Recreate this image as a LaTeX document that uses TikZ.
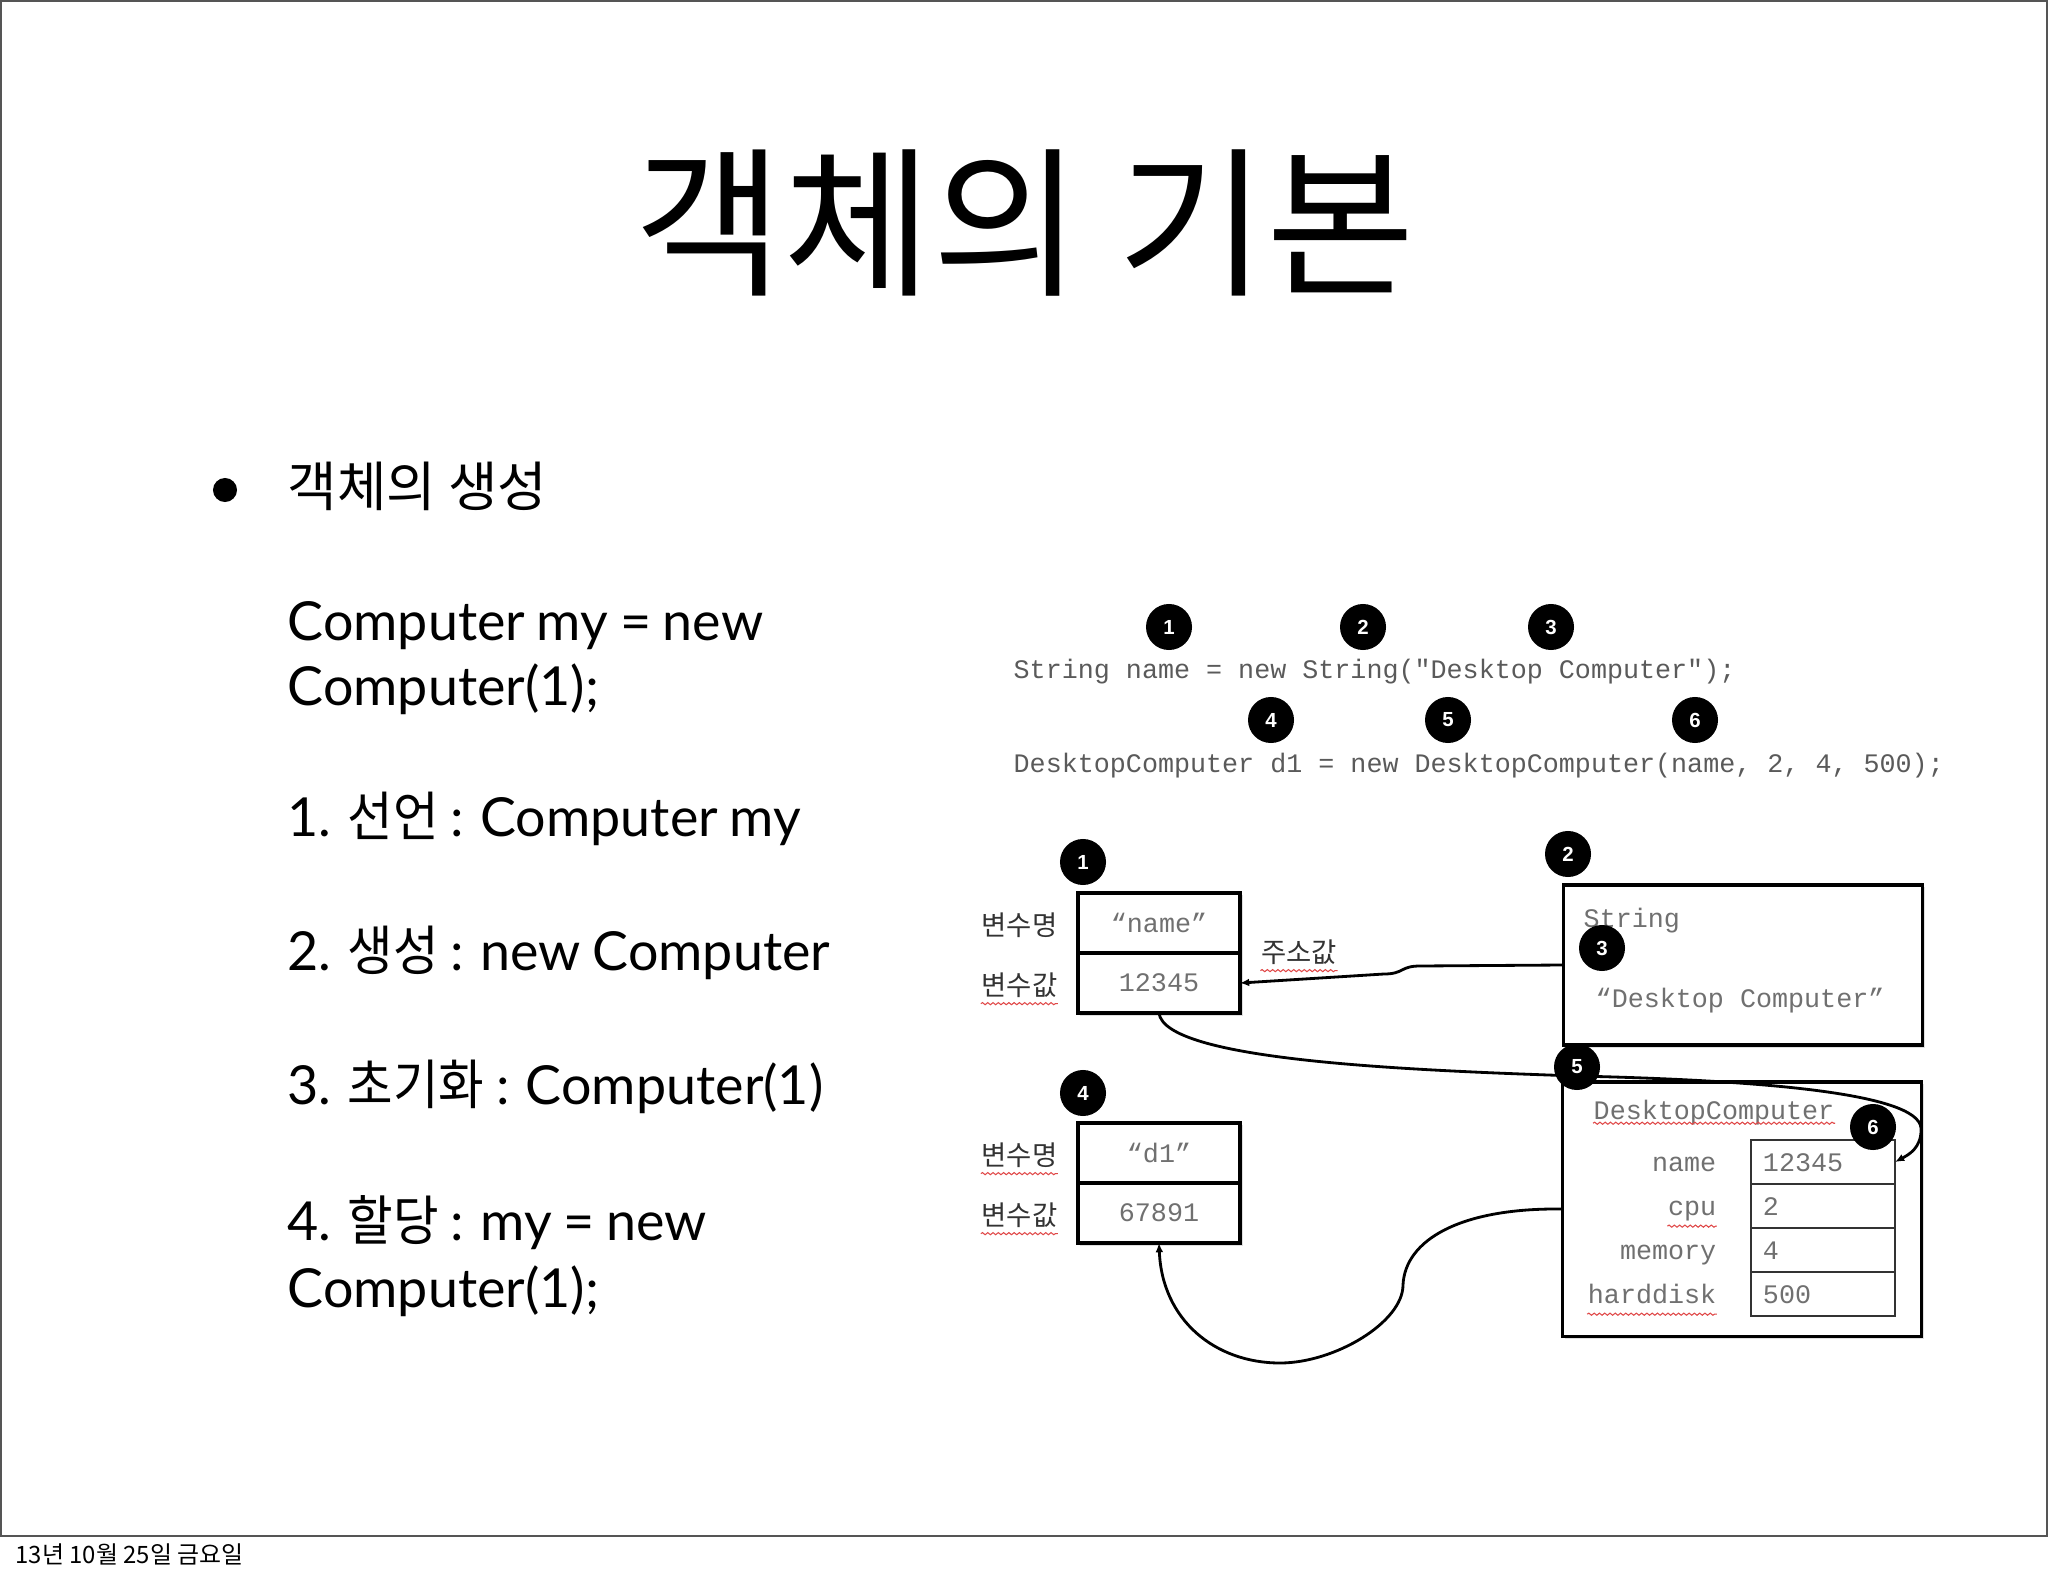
\documentclass[tikz,border=0pt]{standalone}
\usepackage{fontspec}
\setmainfont{Lato}[WordSpace=0.85]
\newfontfamily\kr{Noto Sans CJK KR}
\newfontfamily\krb{Noto Sans CJK KR}[FakeStretch=0.92]
\newfontfamily\codefont{Liberation Mono}
\newfontfamily\numfont{Liberation Sans}
\usetikzlibrary{arrows.meta, positioning, shadows, decorations.pathmorphing}
\definecolor{clrCode}{HTML}{5A5A5A}
\definecolor{clrVal}{HTML}{707070}
\definecolor{clrLbl}{HTML}{333333}
\definecolor{clrSpell}{HTML}{E04848}
\definecolor{clrFrame}{HTML}{555555}

\tikzset{
  num/.style={circle, fill=black, text=white, inner sep=0pt, minimum size=0.46cm,
              font=\numfont\bfseries\fontsize{5.8pt}{6pt}\selectfont},
  code/.style={anchor=base west, inner sep=0pt, text=clrCode,
               font=\codefont\fontsize{7.6pt}{9pt}\selectfont},
  body/.style={anchor=base west, inner sep=0pt, font=\fontsize{15.3pt}{18pt}\selectfont},
  cell/.style={draw, line width=0.9pt, fill=white, outer sep=0pt, inner sep=0pt,
               minimum width=1.62cm, minimum height=0.6cm, text=clrVal,
               font=\codefont\fontsize{7.6pt}{9pt}\selectfont,
               drop shadow={shadow xshift=0.7pt, shadow yshift=-0.7pt, opacity=0.25}},
  objbox/.style={draw, line width=0.9pt, fill=white, inner sep=0pt,
                 drop shadow={shadow xshift=0.7pt, shadow yshift=-0.7pt, opacity=0.25}},
  field/.style={draw=clrLbl, line width=0.5pt, outer sep=0pt, minimum height=0.44cm,
                text width=1.2cm, inner xsep=0.12cm, inner ysep=0pt, align=left,
                text height=1.6ex, text depth=0.5ex, text=clrVal,
                font=\codefont\fontsize{7.6pt}{9pt}\selectfont},
  fname/.style={inner sep=0pt, text=clrVal, text height=1.6ex, text depth=0.5ex,
                font=\codefont\fontsize{7.6pt}{9pt}\selectfont},
  lbl/.style={inner sep=0pt, text=clrLbl, text height=1.7ex, text depth=0.3ex,
              font=\kr\fontsize{7.8pt}{9pt}\selectfont},
  link/.style={line width=0.8pt, -{Latex[length=2.6pt,width=2.2pt]}},
  spell/.style={draw=clrSpell, line width=0.3pt, decorate,
                decoration={snake, amplitude=0.3pt, segment length=1.5pt}}
}

\begin{document}
\begin{tikzpicture}[x=0.01cm, y=-0.01cm]
  \useasboundingbox (0,0) rectangle (2048,1576);
  \draw[clrFrame, line width=0.8pt] (1,1) rectangle (2047,1536);

  % title and bullet text
  \node[anchor=base, inner sep=0pt, font=\kr\fontsize{46pt}{50pt}\selectfont] (title) at (1025,284) {객체의 기본};
  \node[circle, fill=black, minimum size=0.24cm, inner sep=0pt] (bul) at (225,490) {};
  \node[body, font=\kr\fontsize{15.3pt}{18pt}\selectfont] (sub) at (287,506) {객체의 생성};
  \node[body] (ln1) at (287,640) {Computer my = new};
  \node[body] (ln2) at (287,705) {Computer(1);};
  \node[body] (st1) at (287,836) {1. {\krb 선언} : Computer my};
  \node[body] (st2) at (287,970) {2. {\krb 생성} : new Computer};
  \node[body] (st3) at (287,1104) {3. {\krb 초기화} : Computer(1)};
  \node[body] (st4) at (287,1240) {4. {\krb 할당} : my = new};
  \node[body] (st5) at (287,1307) {Computer(1);};

  % code lines
  \node[code] (code1) at (1013,678) {String name = new String("Desktop Computer");};
  \node[code] (code2) at (1013,772) {DesktopComputer d1 = new DesktopComputer(name, 2, 4, 500);};

  % variable name
  \node[cell] (nm1) at (1159,923) {“name”};
  \node[cell, below=0pt of nm1] (vl1) {12345};
  \node[lbl, left=0.2cm of nm1] (nmL1) {변수명};
  \node[lbl, left=0.2cm of vl1] (vlL1) {변수값};
  \node[lbl] (addr) at (1299,950) {주소값};

  % variable d1
  \node[cell] (nm4) at (1159,1153) {“d1”};
  \node[cell, below=0pt of nm4] (vl4) {67891};
  \node[lbl, left=0.2cm of nm4] (nmL4) {변수명};
  \node[lbl, left=0.2cm of vl4] (vlL4) {변수값};

  % String object
  \node[objbox, minimum width=3.58cm, minimum height=1.6cm] (str) at (1743,965) {};
  \node[code, text=clrVal] (strT) at (1583,927) {String};
  \node[code, text=clrVal] (strV) at (1595,1007) {“Desktop Computer”};

  % DesktopComputer object
  \node[objbox, minimum width=3.59cm, minimum height=2.54cm] (dc) at (1742,1209) {};
  \node[code, text=clrVal] (dcT) at (1593,1119) {DesktopComputer};
  \node[field] (f1) at (1823,1162) {12345};
  \node[field, below=0pt of f1] (f2) {2};
  \node[field, below=0pt of f2] (f3) {4};
  \node[field, below=0pt of f3] (f4) {500};
  \node[fname, left=0.34cm of f1, anchor=east] (f1L) {name};
  \node[fname, left=0.34cm of f2, anchor=east] (f2L) {cpu};
  \node[fname, left=0.34cm of f3, anchor=east] (f3L) {memory};
  \node[fname, left=0.34cm of f4, anchor=east] (f4L) {harddisk};

  % spell-check marks
  \draw[spell] ([yshift=-0.6pt]vlL1.south west) -- ([yshift=-0.6pt]vlL1.south east);
  \draw[spell] ([yshift=-0.6pt]nmL4.south west) -- ([yshift=-0.6pt]nmL4.south east);
  \draw[spell] ([yshift=-0.6pt]vlL4.south west) -- ([yshift=-0.6pt]vlL4.south east);
  \draw[spell] ([yshift=-0.6pt]addr.south west) -- ([yshift=-0.6pt]addr.south east);
  \draw[spell] ([yshift=-1.2pt]dcT.base west) -- ([yshift=-1.2pt]dcT.base east);
  \draw[spell] ([yshift=-0.2pt]f2L.south west) -- ([yshift=-0.2pt]f2L.south east);
  \draw[spell] ([yshift=-0.2pt]f4L.south west) -- ([yshift=-0.2pt]f4L.south east);

  % connectors
  \coordinate (kinkA) at (1420,966);
  \coordinate (kinkB) at (1384,974);
  \coordinate (c5) at (1577,1076);
  \coordinate (hook) at (1921,1128);
  \coordinate (bendA) at (1403,1285);
  \coordinate (bendB) at (1280,1363);
  \draw[link] (str.west) -- (kinkA) .. controls (1400,966) and (1404,974) .. (kinkB) -- (vl1.east);
  \draw[link] (vl1.south) .. controls (1165,1060) and (1400,1070) .. (c5)
    .. controls (1750,1080) and (1918,1092) .. (hook)
    .. controls (1922,1148) and (1908,1155) .. (f1.east);
  \draw[link] (dc.west) .. controls (1460,1208) and (1405,1240) .. (bendA)
    .. controls (1403,1322) and (1335,1363) .. (bendB)
    .. controls (1215,1363) and (1162,1320) .. (vl4.south);

  % markers
  \node[num] (m1) at (1169,627) {1};
  \node[num] (m2) at (1363,627) {2};
  \node[num] (m3) at (1551,627) {3};
  \node[num] (m4) at (1271,720) {4};
  \node[num] (m5) at (1448,720) {5};
  \node[num] (m6) at (1695,720) {6};
  \node[num] (b1) at (1083,862) {1};
  \node[num] (b2) at (1568,854) {2};
  \node[num] (b3) at (1602,948) {3};
  \node[num] (b4) at (1083,1093) {4};
  \node[num] (b5) at (1577,1067) {5};
  \node[num] (b6) at (1873,1127) {6};

  % footer
  \node[anchor=base west, inner sep=0pt, font=\kr\fontsize{6.8pt}{8pt}\selectfont] (foot) at (15,1563) {13년 10월 25일 금요일};
\end{tikzpicture}
\end{document}
